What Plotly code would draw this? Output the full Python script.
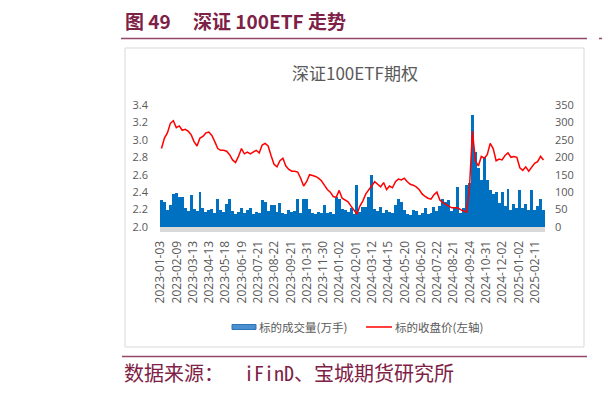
import plotly.graph_objects as go

# ---------------- data ----------------
TICK_LABELS = ["2023-01-03", "2023-02-09", "2023-03-13", "2023-04-13", "2023-05-18",
               "2023-06-19", "2023-07-21", "2023-08-22", "2023-09-21", "2023-10-31",
               "2023-11-30", "2024-01-02", "2024-02-01", "2024-03-12", "2024-04-15",
               "2024-05-20", "2024-06-20", "2024-07-22", "2024-08-21", "2024-09-24",
               "2024-10-31", "2024-12-02", "2025-01-02", "2025-02-11"]
TICK_STEP_DAYS = 22          # trading days between two labels
BUCKET_DAYS = 4              # each value below covers 4 trading days
N_DAYS = 520

# 标的收盘价 (left axis), one value per 4 trading days
PRICE = [2.90, 3.02, 3.08, 3.19, 3.22, 3.14, 3.16, 3.11, 3.12, 3.10,
         3.06, 2.98, 2.93, 3.02, 3.04, 3.08, 3.09, 3.05, 2.98, 2.90,
         2.88, 2.88, 2.87, 2.83, 2.77, 2.74, 2.81, 2.90, 2.84, 2.86,
         2.84, 2.86, 2.88, 2.85, 2.94, 2.96, 2.93, 2.82, 2.72, 2.69,
         2.76, 2.79, 2.70, 2.66, 2.64, 2.64, 2.63, 2.56, 2.47, 2.52,
         2.60, 2.59, 2.58, 2.56, 2.53, 2.48, 2.43, 2.40, 2.35, 2.34,
         2.42, 2.33, 2.31, 2.29, 2.24, 2.20, 2.15, 2.24, 2.30, 2.38,
         2.43, 2.47, 2.52, 2.49, 2.46, 2.51, 2.43, 2.47, 2.45, 2.52,
         2.55, 2.54, 2.56, 2.52, 2.49, 2.48, 2.46, 2.43, 2.38, 2.35,
         2.33, 2.32, 2.37, 2.40, 2.31, 2.28, 2.26, 2.24, 2.22, 2.22,
         2.22, 2.20, 2.18, 2.17, 2.45, 3.10, 2.76, 2.70, 2.81, 2.79,
         2.83, 2.96, 2.90, 2.76, 2.78, 2.77, 2.82, 2.85, 2.80, 2.81,
         2.80, 2.68, 2.65, 2.69, 2.64, 2.69, 2.73, 2.75, 2.81, 2.77]

# 标的成交量(万手) (right axis), one value per 4 trading days
VOLUME = [77, 72, 48, 62, 95, 97, 87, 85, 55, 45,
          92, 52, 45, 100, 55, 42, 48, 52, 40, 80,
          48, 42, 65, 80, 45, 38, 42, 55, 40, 48,
          55, 38, 42, 40, 77, 72, 45, 62, 62, 42,
          68, 40, 38, 48, 42, 45, 80, 40, 80, 81,
          52, 40, 38, 42, 40, 62, 40, 43, 38, 86,
          80, 52, 50, 42, 55, 38, 120, 43, 57, 57,
          86, 149, 52, 45, 57, 40, 48, 43, 40, 62,
          81, 72, 50, 38, 35, 50, 45, 35, 40, 55,
          38, 40, 57, 45, 60, 81, 72, 77, 45, 55,
          114, 40, 55, 120, 125, 321, 216, 168, 134, 200,
          136, 107, 95, 99, 70, 100, 60, 110, 50, 65,
          55, 106, 55, 65, 50, 106, 50, 60, 80, 50]

SERIES_NAMES = ["标的成交量(万手)", "标的收盘价(左轴)"]
CHART_TITLE = "深证100ETF期权"
HEADER = "图 49"
HEADER_TITLE = "深证 100ETF 走势"
SOURCE = "数据来源：  iFinD、宝城期货研究所"

# ---------------- figure ----------------
# The page body keeps the browser's default 8px margin, so the figure is
# sized to fit the 610x394 window and all positions below are page pixels.
OFF = 8
W, H = 610 - OFF, 394 - 2 * OFF
PX0, PX1, PY0, PY1 = 160, 545, 105, 227      # plot area on the page
L, R = PX0 - OFF, W - (PX1 - OFF)
T, B = PY0 - OFF, H - (PY1 - OFF)
PW, PH = PX1 - PX0, PY1 - PY0

def px(x):
    return (x - PX0) / PW

def py(y):
    return (PY1 - y) / PH

bucket_x = [BUCKET_DAYS * i + (BUCKET_DAYS - 1) / 2 for i in range(len(PRICE))]
tick_vals = [TICK_STEP_DAYS * k for k in range(len(TICK_LABELS))]

MAROON = "#7E2146"
LINE_MAROON = "#93466A"
GRAY_TXT = "#595959"
CJK = "Noto Sans CJK SC"

fig = go.Figure()
fig.add_trace(go.Bar(x=bucket_x, y=VOLUME, width=BUCKET_DAYS, name=SERIES_NAMES[0],
                     marker=dict(color="#0070C0", line=dict(width=0)), yaxis="y"))
fig.add_trace(go.Scatter(x=bucket_x, y=PRICE, mode="lines", name=SERIES_NAMES[1],
                         line=dict(color="#FF0000", width=1.5), yaxis="y2"))

fig.update_layout(
    width=W, height=H,
    margin=dict(l=L, r=R, t=T, b=B, pad=0),
    paper_bgcolor="white", plot_bgcolor="rgba(0,0,0,0)",
    showlegend=False, bargap=0,
    font=dict(family="Open Sans, " + CJK, color=GRAY_TXT, size=11),
    xaxis=dict(range=[-0.5, N_DAYS - 0.5], tickmode="array", tickvals=tick_vals,
               ticktext=TICK_LABELS, tickangle=-90, ticks="", showgrid=False,
               zeroline=False, showline=True, linecolor="#D9D9D9", linewidth=5,
               tickfont=dict(size=12, color=GRAY_TXT), ticklabelstandoff=4),
    yaxis=dict(side="right", range=[0, 350], tickvals=list(range(0, 351, 50)),
               ticks="", showgrid=False, zeroline=False, showline=False,
               tickfont=dict(size=11, color=GRAY_TXT), ticklabelstandoff=9),
    yaxis2=dict(side="left", overlaying="y", range=[2.0, 3.4],
                tickvals=[2.0, 2.2, 2.4, 2.6, 2.8, 3.0, 3.2, 3.4], tickformat=".1f",
                ticks="", showgrid=False, zeroline=False, showline=False,
                tickfont=dict(size=11, color=GRAY_TXT), ticklabelstandoff=11),
)

shapes = []
# chart frame
shapes.append(dict(type="rect", xref="paper", yref="paper", x0=px(125), x1=px(584),
                   y0=py(48), y1=py(347), line=dict(color="#D9D9D9", width=1),
                   fillcolor="white", layer="below"))
# header / footer rules
shapes.append(dict(type="line", xref="paper", yref="paper", x0=px(121), x1=px(587),
                   y0=py(38.5), y1=py(38.5), line=dict(color=LINE_MAROON, width=1.5)))
shapes.append(dict(type="line", xref="paper", yref="paper", x0=px(122), x1=px(587),
                   y0=py(356.5), y1=py(356.5), line=dict(color=LINE_MAROON, width=1.5)))
# neighbouring panel peeking in at the right edge
shapes.append(dict(type="line", xref="paper", yref="paper", x0=px(599), x1=px(640),
                   y0=py(38.5), y1=py(38.5), line=dict(color=LINE_MAROON, width=1.5)))
shapes.append(dict(type="line", xref="paper", yref="paper", x0=px(603), x1=px(640),
                   y0=py(356.5), y1=py(356.5), line=dict(color=LINE_MAROON, width=1.5)))
shapes.append(dict(type="rect", xref="paper", yref="paper", x0=px(606), x1=px(660),
                   y0=py(48), y1=py(347), line=dict(color="#D9D9D9", width=1),
                   fillcolor="white", layer="below"))
# legend symbols
shapes.append(dict(type="rect", xref="paper", yref="paper", x0=px(232), x1=px(256),
                   y0=py(324.5), y1=py(329.5), fillcolor="#4A90D0",
                   line=dict(color="#2E75B6", width=1)))
shapes.append(dict(type="line", xref="paper", yref="paper", x0=px(366), x1=px(392),
                   y0=py(327), y1=py(327), line=dict(color="#FF0000", width=1.5)))
fig.update_layout(shapes=shapes)

ann = []
def text(x, y, s, size, color, anchor="left", bold=False, family=CJK):
    ann.append(dict(xref="paper", yref="paper", x=px(x), y=py(y), text=("<b>%s</b>" % s) if bold else s,
                    showarrow=False, xanchor=anchor, yanchor="middle", borderpad=0,
                    font=dict(size=size, color=color, family=family)))

text(124, 21, HEADER, 19, MAROON, bold=True)
text(192, 21, HEADER_TITLE, 19, MAROON, bold=True)
text(603, 21, "图", 19, MAROON, bold=True)
text(354.5, 72, CHART_TITLE, 17, GRAY_TXT, anchor="center")
text(258, 327, SERIES_NAMES[0], 11.5, GRAY_TXT)
text(394, 327, SERIES_NAMES[1], 11.5, GRAY_TXT)
text(123, 372.5, SOURCE, 20, MAROON, family="Noto Sans Mono CJK SC, " + CJK)
text(603, 372.5, "数", 20, MAROON)
fig.update_layout(annotations=ann)

fig.write_html("out.html")
